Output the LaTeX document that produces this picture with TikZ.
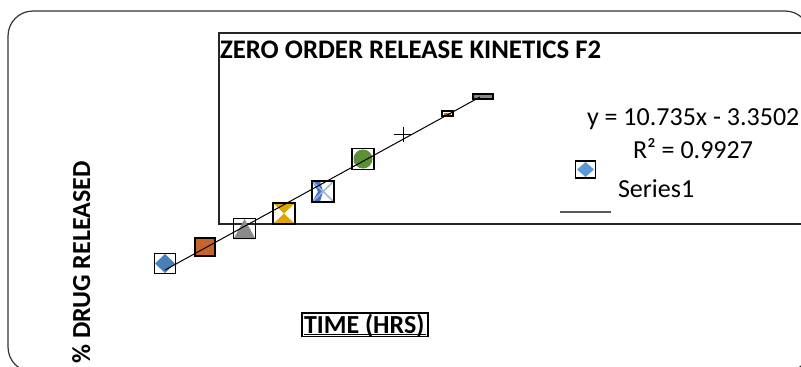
\documentclass[tikz,border=0pt]{standalone}
\usepackage{fontspec}
\setmainfont{Carlito}
\begin{document}
\begin{tikzpicture}[x=1pt,y=-1pt,
  frame/.style={draw=black!80, line width=1.2pt, rounded corners=25pt},
  plotbox/.style={draw=black!85, line width=1.4pt},
  mbox/.style={draw=black, line width=1.6pt, inner sep=0pt, outer sep=0pt},
  txt/.style={inner sep=0pt, outer sep=0pt, font=\fontsize{26}{30}\selectfont},
  btxt/.style={inner sep=0pt, outer sep=0pt, font=\fontsize{26}{30}\selectfont\bfseries},
  trend/.style={draw=black, line width=1pt},
  legline/.style={draw=black!65, line width=1.6pt}
]
\definecolor{cblue}{HTML}{4A7EBB}
\definecolor{corange}{HTML}{C5652B}
\definecolor{cgray}{HTML}{8A8A8A}
\definecolor{cgold}{HTML}{DEA700}
\definecolor{cblueb}{HTML}{4A73C0}
\definecolor{cbluel}{HTML}{9DB3E0}
\definecolor{cgreen}{HTML}{5C8F36}
\definecolor{clegblue}{HTML}{5B9BD5}
\useasboundingbox (0,0) rectangle (801,367);
\clip (0,0) rectangle (801,367);
% outer chart frame
\draw[frame] (8,11) rectangle (810,372);
% plot area box
\draw[plotbox] (219,33) rectangle (840,224);
% title
\node[btxt, anchor=base west, font=\fontsize{26.8}{30}\selectfont\bfseries] (title) at (220,58) {ZERO ORDER RELEASE KINETICS F2};
% marker fills
\fill[cblue] (165,254) -- (175,263.5) -- (165,273) -- (155,263.5) -- cycle;
\fill[corange] (195,238) rectangle (215,256);
\fill[cgray] (244.5,219) -- (255.5,239) -- (233.5,239) -- cycle;
\fill[cgold] (273,203) -- (295,203) -- (284,213.5) -- (295,224) -- (273,224) -- (284,213.5) -- cycle;
\fill[cblueb] (312,181) -- (320,181) -- (323,191.5) -- (320,202) -- (312,202) -- (318,191.5) -- cycle;
\draw[cbluel, line width=1.5pt] (312,181) -- (334,202) (334,181) -- (312,202);
\fill[cgreen] (363,159) circle[radius=9.5];
\fill[corange] (444,112.5) rectangle (451,114.5);
\fill[cgray] (474,95) rectangle (492,98);
% marker boxes
\node[mbox, minimum width=21pt, minimum height=20pt] (m1) at (165,263.5) {};
\node[mbox, minimum width=20pt, minimum height=18pt] (m2) at (205,247) {};
\node[mbox, minimum width=22pt, minimum height=20pt] (m3) at (244.5,228.5) {};
\node[mbox, minimum width=22pt, minimum height=21pt] (m4) at (284,213.5) {};
\node[mbox, minimum width=22pt, minimum height=21pt] (m5) at (323,191.5) {};
\node[mbox, minimum width=22pt, minimum height=21pt] (m6) at (363,159) {};
\node[inner sep=0pt, minimum size=0pt] (m7) at (403,134.5) {};
\draw[black, line width=1pt] ([xshift=-9pt]m7.center) -- ([xshift=9pt]m7.center);
\draw[black, line width=1pt] ([yshift=-7.5pt]m7.center) -- ([yshift=7.5pt]m7.center);
\node[draw=black, line width=1.2pt, inner sep=0pt, minimum width=11pt, minimum height=5pt] (m8) at (447.5,113.5) {};
\node[draw=black, line width=1.2pt, inner sep=0pt, minimum width=20pt, minimum height=5pt] (m9) at (483,96.5) {};
% trend line
\coordinate (t0) at (165,270);
\coordinate (t1) at (480,97);
\draw[trend] (t0) -- (t1);
% equation and R^2
\node[txt, anchor=base west] (eq) at (587,125) {y = 10.735x - 3.3502};
\node[txt, anchor=base west] (r2) at (633,158) {R² = 0.9927};
% legend
\fill[clegblue] (585.5,162) -- (594,169.5) -- (585.5,177) -- (577,169.5) -- cycle;
\node[mbox, minimum width=20pt, minimum height=17pt] (lm) at (585.5,169.5) {};
\node[txt, anchor=base west] (ser) at (618,197) {Series1};
\coordinate (l0) at (560,212);
\coordinate (l1) at (611,212);
\draw[legline] (l0) -- (l1);
% axis titles
\node[btxt, anchor=base, rotate=90] (ylab) at (90,262.5) {\% DRUG RELEASED};
\node[btxt, anchor=base west] (xlab) at (304,333) {TIME (HRS)};
\draw[black, line width=1.3pt] (302,313) rectangle (428,336.5);
\draw[black, line width=1.3pt] (304,334.5) -- (426,334.5);
\end{tikzpicture}
\end{document}
